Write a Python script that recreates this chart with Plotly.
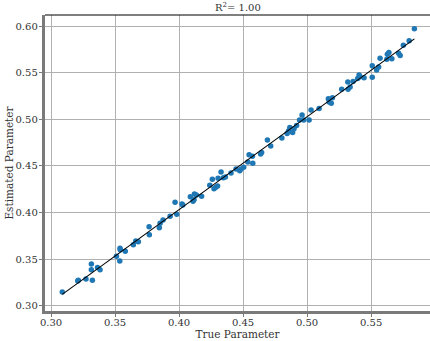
import numpy as np
import plotly.graph_objects as go

# True vs. estimated parameter values
true_param = [
    0.3088, 0.3209, 0.3213, 0.3273, 0.3315, 0.3315, 0.3323, 0.3363, 0.3383, 0.3511,
    0.3537, 0.3539, 0.3541, 0.3580, 0.3643, 0.3662, 0.3682, 0.3768, 0.3766, 0.3846,
    0.3852, 0.3875, 0.3930, 0.3982, 0.3969, 0.4023, 0.4029, 0.4088, 0.4120, 0.4135,
    0.4109, 0.4117, 0.4176, 0.4240, 0.4260, 0.4273, 0.4287, 0.4301, 0.4305, 0.4328,
    0.4346, 0.4362, 0.4406, 0.4445, 0.4474, 0.4484, 0.4505, 0.4537, 0.4547, 0.4573,
    0.4576, 0.4637, 0.4645, 0.4690, 0.4716, 0.4803, 0.4844, 0.4855, 0.4865, 0.4887,
    0.4898, 0.4918, 0.4941, 0.4961, 0.4974, 0.5016, 0.5031, 0.5094, 0.5166, 0.5172,
    0.5189, 0.5198, 0.5270, 0.5318, 0.5320, 0.5336, 0.5359, 0.5395, 0.5406, 0.5414,
    0.5445, 0.5509, 0.5509, 0.5543, 0.5559, 0.5570, 0.5623, 0.5627, 0.5639, 0.5662,
    0.5715, 0.5727, 0.5752, 0.5797, 0.5838,
]
estimated_param = [
    0.3150, 0.3268, 0.3275, 0.3289, 0.3450, 0.3389, 0.3275, 0.3413, 0.3389, 0.3534,
    0.3482, 0.3618, 0.3603, 0.3586, 0.3657, 0.3696, 0.3689, 0.3764, 0.3850, 0.3839,
    0.3886, 0.3921, 0.3961, 0.3983, 0.4111, 0.4093, 0.4082, 0.4171, 0.4200, 0.4189,
    0.4122, 0.4139, 0.4176, 0.4293, 0.4358, 0.4257, 0.4272, 0.4286, 0.4368, 0.4436,
    0.4375, 0.4382, 0.4425, 0.4468, 0.4450, 0.4468, 0.4486, 0.4543, 0.4621, 0.4604,
    0.4529, 0.4629, 0.4645, 0.4779, 0.4714, 0.4800, 0.4848, 0.4875, 0.4913, 0.4859,
    0.4900, 0.4934, 0.4993, 0.5046, 0.4993, 0.4993, 0.5100, 0.5116, 0.5220, 0.5186,
    0.5172, 0.5231, 0.5322, 0.5400, 0.5322, 0.5347, 0.5405, 0.5438, 0.5474, 0.5456,
    0.5446, 0.5574, 0.5450, 0.5529, 0.5561, 0.5655, 0.5644, 0.5698, 0.5716, 0.5649,
    0.5708, 0.5684, 0.5793, 0.5843, 0.5971,
]

x_ticks = [0.30, 0.35, 0.40, 0.45, 0.50, 0.55]
y_ticks = [0.30, 0.35, 0.40, 0.45, 0.50, 0.55, 0.60]
title_text = "R<sup>2</sup>= 1.00"

x = np.array(true_param)
y = np.array(estimated_param)
slope, intercept = np.polyfit(x, y, 1)
fit_x = np.array([x.min(), x.max()])
fit_y = slope * fit_x + intercept

FONT = "DejaVu Serif"
GRID = "#b0b0b0"
SPINE = "#7a7a7a"
TEXT = "#333333"

fig = go.Figure()
fig.add_trace(go.Scatter(
    x=true_param, y=estimated_param, mode="markers",
    marker=dict(color="#1f77b4", size=5.5, line=dict(width=0)),
    showlegend=False,
))
fig.add_trace(go.Scatter(
    x=fit_x, y=fit_y, mode="lines",
    line=dict(color="black", width=1.1),
    showlegend=False,
))

axis_common = dict(
    showgrid=True, gridcolor=GRID, gridwidth=1,
    zeroline=False,
    showline=True, linecolor=SPINE, linewidth=2.5, mirror=False,
    ticks="outside", ticklen=3.5, tickwidth=1, tickcolor=SPINE,
    tickfont=dict(family=FONT, size=10, color=TEXT),
    tickformat=".2f",
)

fig.update_layout(
    width=430, height=341,
    margin=dict(l=45, r=0, t=15, b=30),
    paper_bgcolor="white", plot_bgcolor="white",
    font=dict(family=FONT, size=10, color=TEXT),
    xaxis=dict(
        range=[0.2953, 0.596], tickvals=x_ticks, ticklabelstandoff=-3,
        title=dict(text="True Parameter", font=dict(family=FONT, size=10.5, color=TEXT), standoff=0),
        **axis_common,
    ),
    yaxis=dict(
        range=[0.2946, 0.6118], tickvals=y_ticks, ticklabelstandoff=-1,
        title=dict(text="Estimated Parameter", font=dict(family=FONT, size=10.5, color=TEXT), standoff=0),
        **axis_common,
    ),
    shapes=[dict(
        type="line", xref="paper", yref="paper", x0=0, x1=1, y0=1, y1=1,
        line=dict(color="black", width=1.2),
    )],
    annotations=[dict(
        text=title_text, xref="paper", yref="paper", x=0.5, y=1,
        xanchor="center", yanchor="bottom", yshift=0, showarrow=False,
        font=dict(family=FONT, size=10, color=TEXT),
    )],
)

fig.write_html("out.html")
